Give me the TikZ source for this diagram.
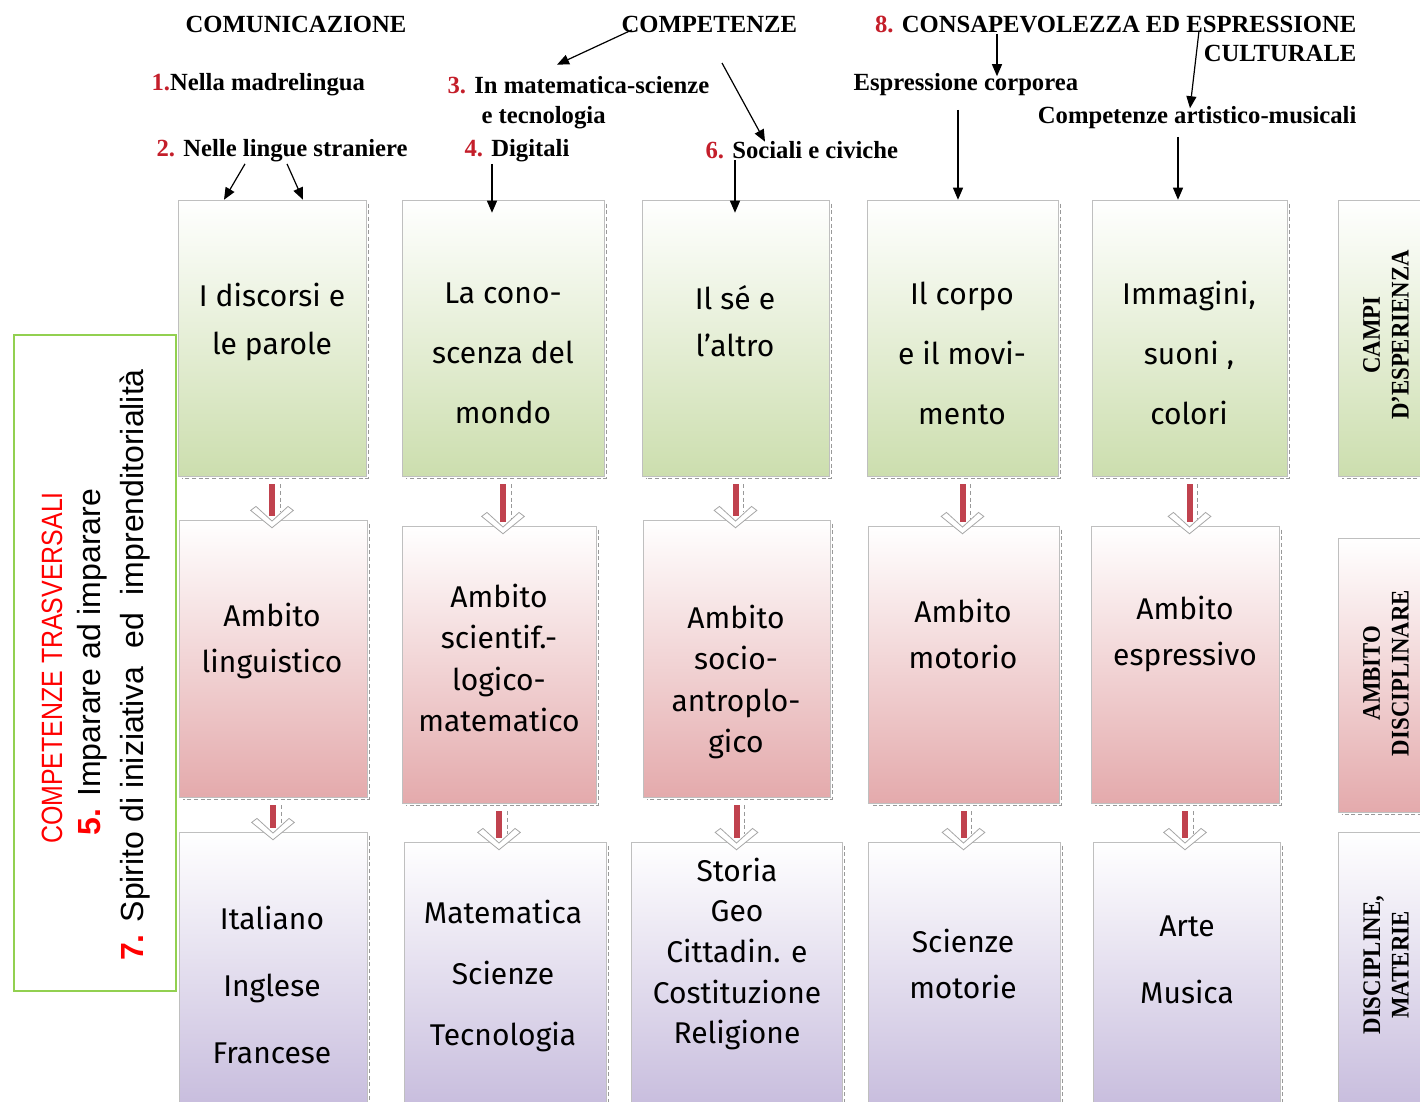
\documentclass[tikz,border=0pt]{standalone}
\usepackage{fontspec}
\usepackage{xcolor}
\usepackage{tikz}
\usetikzlibrary{fit,calc,arrows.meta}

\newfontfamily\timesb{Liberation Serif}
\newfontfamily\comic{Fira Sans}
\newfontfamily\tahoma[FakeStretch=0.85]{Liberation Sans}
\newfontfamily\tahomalarga{Liberation Sans}
\newfontfamily\narrowserif[FakeStretch=0.9]{Liberation Serif}

\definecolor{campoverde}{RGB}{204,222,174}
\definecolor{ambitorosa}{RGB}{228,170,172}
\definecolor{disclilla}{RGB}{199,188,221}
\definecolor{numred}{RGB}{196,30,42}
\definecolor{bordoverde}{RGB}{146,208,80}
\definecolor{gambored}{RGB}{192,66,78}

\tikzset{
	campo/.style={draw=gray!50, thin, top color=white, bottom color=campoverde, inner sep=0pt},
	ambito/.style={draw=gray!50, thin, top color=white, bottom color=ambitorosa, inner sep=0pt},
	disc/.style={draw=gray!50, thin, top color=white, bottom color=disclilla, inner sep=0pt},
	testo/.style={font=\comic\fontsize{22.5}{#1}\selectfont, align=center},
	etic/.style={font=\timesb\bfseries\fontsize{18.5}{21}\selectfont, inner sep=1pt},
	lato/.style={font=\narrowserif\bfseries\fontsize{19}{21.5}\selectfont, rotate=90, align=center},
	trasv/.style={font=\tahomalarga\fontsize{24}{28}\selectfont, rotate=90},
	ombra/.style={densely dashed, gray!80, line width=1.1pt},
	gambo/.style={gambored, line width=4.5pt},
	punta/.style={draw=gray!70, fill=white, line width=0.6pt},
	freccia/.style={-{Triangle[length=9pt,width=7.5pt]}, line width=0.9pt},
}

\begin{document}
\begin{tikzpicture}[x=0.75pt,y=-0.75pt]
	\useasboundingbox (0,0) rectangle (1420,1101);

	% campi d'esperienza
	\node[campo, fit={(178,200) (366,476)}] (g1) {};
	\node[campo, fit={(402,200) (604,476)}] (g2) {};
	\node[campo, fit={(642,200) (829,476)}] (g3) {};
	\node[campo, fit={(867,200) (1058,476)}] (g4) {};
	\node[campo, fit={(1092,200) (1287,476)}] (g5) {};
	\node[campo, fit={(1338,200) (1434,476)}] (g6) {};

	% ambiti
	\node[ambito, fit={(179,520) (367,797)}] (p1) {};
	\node[ambito, fit={(402,526) (596,803)}] (p2) {};
	\node[ambito, fit={(643,520) (830,797)}] (p3) {};
	\node[ambito, fit={(868,526) (1059,803)}] (p4) {};
	\node[ambito, fit={(1091,526) (1279,803)}] (p5) {};
	\node[ambito, fit={(1338,538) (1434,812)}] (p6) {};

	% discipline
	\node[disc, fit={(179,832) (367,1110)}] (v1) {};
	\node[disc, fit={(404,842) (606,1110)}] (v2) {};
	\node[disc, fit={(631,842) (842,1110)}] (v3) {};
	\node[disc, fit={(868,842) (1060,1110)}] (v4) {};
	\node[disc, fit={(1093,842) (1280,1110)}] (v5) {};
	\node[disc, fit={(1338,832) (1434,1110)}] (v6) {};

	\foreach \n in {g1,g2,g3,g4,g5,g6,p1,p2,p3,p4,p5,p6}{
		\draw[ombra] ([xshift=1.5pt,yshift=-3pt]\n.north east) |- ([xshift=3pt,yshift=-1.5pt]\n.south west);
	}
	\foreach \n in {v1,v2,v3,v4,v5}{
		\draw[ombra] ([xshift=1.5pt,yshift=-3pt]\n.north east) -- ([xshift=1.5pt]\n.south east);
	}

	% frecce fra le righe
	\foreach \a/\b in {g1/p1,g2/p2,g3/p3,g4/p4,g5/p5,p1/v1,p2/v2,p3/v3,p4/v4,p5/v5}{
		\coordinate (h) at (\a.south |- \b.north);
		\draw[gambo] ([yshift=-6pt]\a.south) -- ([yshift=3pt]h);
		\draw[ombra, line width=0.6pt] ([xshift=6pt,yshift=-6pt]\a.south) -- ([xshift=6pt,yshift=6pt]h);
		\draw[punta] ([xshift=-16pt,yshift=7pt]h) -- ([yshift=-6pt]h) -- ([xshift=16pt,yshift=7pt]h)
			-- ([xshift=12pt,yshift=10pt]h) -- ([yshift=-1pt]h) -- ([xshift=-12pt,yshift=10pt]h) -- cycle;
	}

	% testi nei riquadri
	\node[testo=36pt] (t1) at (272,322) {I discorsi e\\le parole};
	\node[testo=45pt] (t2) at (503,353) {La cono-\\scenza del\\mondo};
	\node[testo=35pt] (t3) at (735,321) {Il sé e\\l’altro};
	\node[testo=45pt] (t4) at (962,353) {Il corpo\\e il movi-\\mento};
	\node[testo=45pt] (t5) at (1189,353) {Immagini,\\suoni ,\\colori};

	\node[testo=34.5pt] (a1) at (272,641) {Ambito\\linguistico};
	\node[testo=31pt] (a2) at (499,658) {Ambito\\scientif.-\\logico-\\matematico};
	\node[testo=31pt] (a3) at (736,682) {Ambito\\socio-\\antroplo-\\gico};
	\node[testo=34.5pt] (a4) at (963,634) {Ambito\\motorio};
	\node[testo=35pt] (a5) at (1185,634) {Ambito\\espressivo};

	\node[testo=50pt] (d1) at (272,985) {Italiano\\Inglese\\Francese};
	\node[testo=46pt] (d2) at (503,976) {Matematica\\Scienze\\Tecnologia};
	\node[testo=30.5pt] (d3) at (737,954) {Storia\\Geo\\Cittadin. e\\Costituzione\\Religione};
	\node[testo=34.5pt] (d4) at (963,964) {Scienze\\motorie};
	\node[testo=50pt] (d5) at (1187,960) {Arte\\Musica};

	\node[lato] (l1) at (1386,335) {CAMPI\\D’ESPERIENZA};
	\node[lato] (l2) at (1386,673) {AMBITO\\DISCIPLINARE};
	\node[lato] (l3) at (1386,965) {DISCIPLINE,\\MATERIE};

	% competenze trasversali
	\node[draw=bordoverde, line width=1.2pt, inner sep=0pt, fit={(14,335) (176,991)}] (tr) {};
	\node[trasv, font=\tahoma\fontsize{22}{26}\selectfont, text=red] (tr1) at (52,668) {COMPETENZE TRASVERSALI};
	\node[trasv] (tr2) at (92,662) {\textcolor{red}{\bfseries 5.} Imparare ad imparare};
	\node[trasv] (tr3) at (135,665) {\textcolor{red}{\bfseries 7.} Spirito di iniziativa~ ed~ imprenditorialità};

	% competenze
	\node[etic] (comu) at (296,24) {COMUNICAZIONE};
	\node[etic, anchor=west] (lab1) at (150,85) {\textcolor{numred}{1.}Nella madrelingua};
	\node[etic, anchor=west] (lab2) at (155,151) {\textcolor{numred}{2.} Nelle lingue straniere};
	\node[etic, anchor=west] (lab3) at (446,85) {\textcolor{numred}{3.} In matematica-scienze};
	\node[etic, anchor=west] (lab3b) at (480,118) {e tecnologia};
	\node[etic, anchor=west] (lab4) at (463,151) {\textcolor{numred}{4.} Digitali};
	\node[etic, anchor=west] (comp) at (620,24) {COMPETENZE};
	\node[etic, anchor=west] (lab6) at (704,150) {\textcolor{numred}{6.} Sociali e civiche};
	\node[etic, anchor=east] (cons) at (1358,24) {\textcolor{numred}{8.} CONSAPEVOLEZZA ED ESPRESSIONE};
	\node[etic, anchor=east] (cult) at (1358,53) {CULTURALE};
	\node[etic, anchor=west] (esp) at (852,85) {Espressione corporea};
	\node[etic, anchor=east] (art) at (1358,118) {Competenze artistico-musicali};

	\coordinate (s6) at (722,63);
	\draw[freccia] (lab2.south -| 245,0) -- (g1.north -| 224,0);
	\draw[freccia] (lab2.south -| 287,0) -- (g1.north -| 303,0);
	\draw[freccia] (lab4.south -| 492,0) -- ($(g2.north -| 492,0)+(0,13)$);
	\draw[freccia] (lab6.south -| 735,0) -- ($(g3.north -| 735,0)+(0,13)$);
	\draw[freccia] ($(comp.south west)+(12,-4)$) -- ($(lab3.north -| 557,0)+(0,-10)$);
	\draw[freccia] (s6) -- ($(lab6.north -| 765,0)+(0,2)$);
	\draw[freccia] (cons.south -| 997,0) -- ($(esp.north -| 997,0)+(0,4)$);
	\draw[freccia] ($(cons.south -| 1199,0)+(0,-3)$) -- ($(art.north -| 1190,0)+(0,3)$);
	\draw[freccia] ($(esp.south -| 958,0)+(0,12)$) -- (g4.north -| 958,0);
	\draw[freccia] ($(art.south -| 1178,0)+(0,6)$) -- (g5.north -| 1178,0);
\end{tikzpicture}
\end{document}
